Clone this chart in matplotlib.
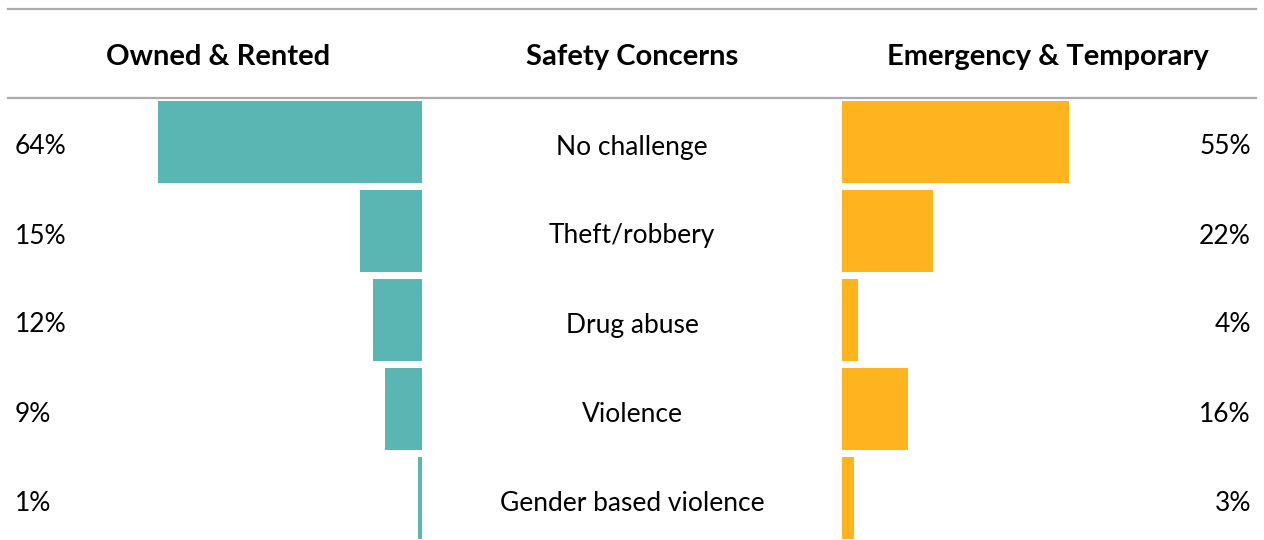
import matplotlib.pyplot as plt
import matplotlib.transforms as mtransforms

# data
categories = ["No challenge", "Theft/robbery", "Drug abuse", "Violence", "Gender based violence"]
owned_rented = [64, 15, 12, 9, 1]
emergency_temp = [55, 22, 4, 16, 3]
headers = ["Owned & Rented", "Safety Concerns", "Emergency & Temporary"]

W, H = 1264, 540
teal = "#59b6b2"
amber = "#fdb41e"
grey = "#aaaaaa"

plt.rcParams['font.family'] = ['Lato', 'DejaVu Sans']

fig = plt.figure(figsize=(W / 100, H / 100), dpi=100)


def px_axes(x0, x1, y0, y1):
    # pixel box (top-left origin) -> figure axes
    return fig.add_axes([x0 / W, 1 - y1 / H, (x1 - x0) / W, (y1 - y0) / H])


px_per_pct = 4.12
pitch = 89.0
row0 = 142.0
top, bottom = 98.0, 540.0
ylim = ((bottom - row0) / pitch, (top - row0) / pitch)
rows = list(range(len(categories)))

axL = px_axes(8, 422, top, bottom)
axC = px_axes(422, 842, top, bottom)
axR = px_axes(842, 1256, top, bottom)

axL.barh(rows, owned_rented, height=82 / pitch, color=teal)
axL.set_xlim(414 / px_per_pct, 0)
axR.barh(rows, emergency_temp, height=82 / pitch, color=amber)
axR.set_xlim(0, 414 / px_per_pct)

for ax in (axL, axC, axR):
    ax.set_ylim(*ylim)
    ax.axis("off")

trL = mtransforms.blended_transform_factory(axL.transAxes, axL.transData)
trR = mtransforms.blended_transform_factory(axR.transAxes, axR.transData)
trC = mtransforms.blended_transform_factory(axC.transAxes, axC.transData)

fs = 19
dy = 5 / pitch  # small nudge so text sits like the original
for i, cat in enumerate(categories):
    axL.text(7 / 414, i + dy, f"{owned_rented[i]}%", transform=trL,
             ha="left", va="center", fontsize=fs)
    axR.text((1251 - 842) / 414, i + dy, f"{emergency_temp[i]}%", transform=trR,
             ha="right", va="center", fontsize=fs)
    axC.text(0.5, i + dy, cat, transform=trC, ha="center", va="center", fontsize=fs)

# header row
for xc, h in zip([218, 632, 1048], headers):
    fig.text(xc / W, 1 - 57 / H, h, ha="center", va="center",
             fontsize=21, fontweight="bold")

for yl in (8.5, 97.5):
    fig.add_artist(plt.Line2D([8 / W, 1256 / W], [1 - yl / H, 1 - yl / H],
                              color=grey, lw=1.6))

fig.savefig("out.png", dpi=100)
